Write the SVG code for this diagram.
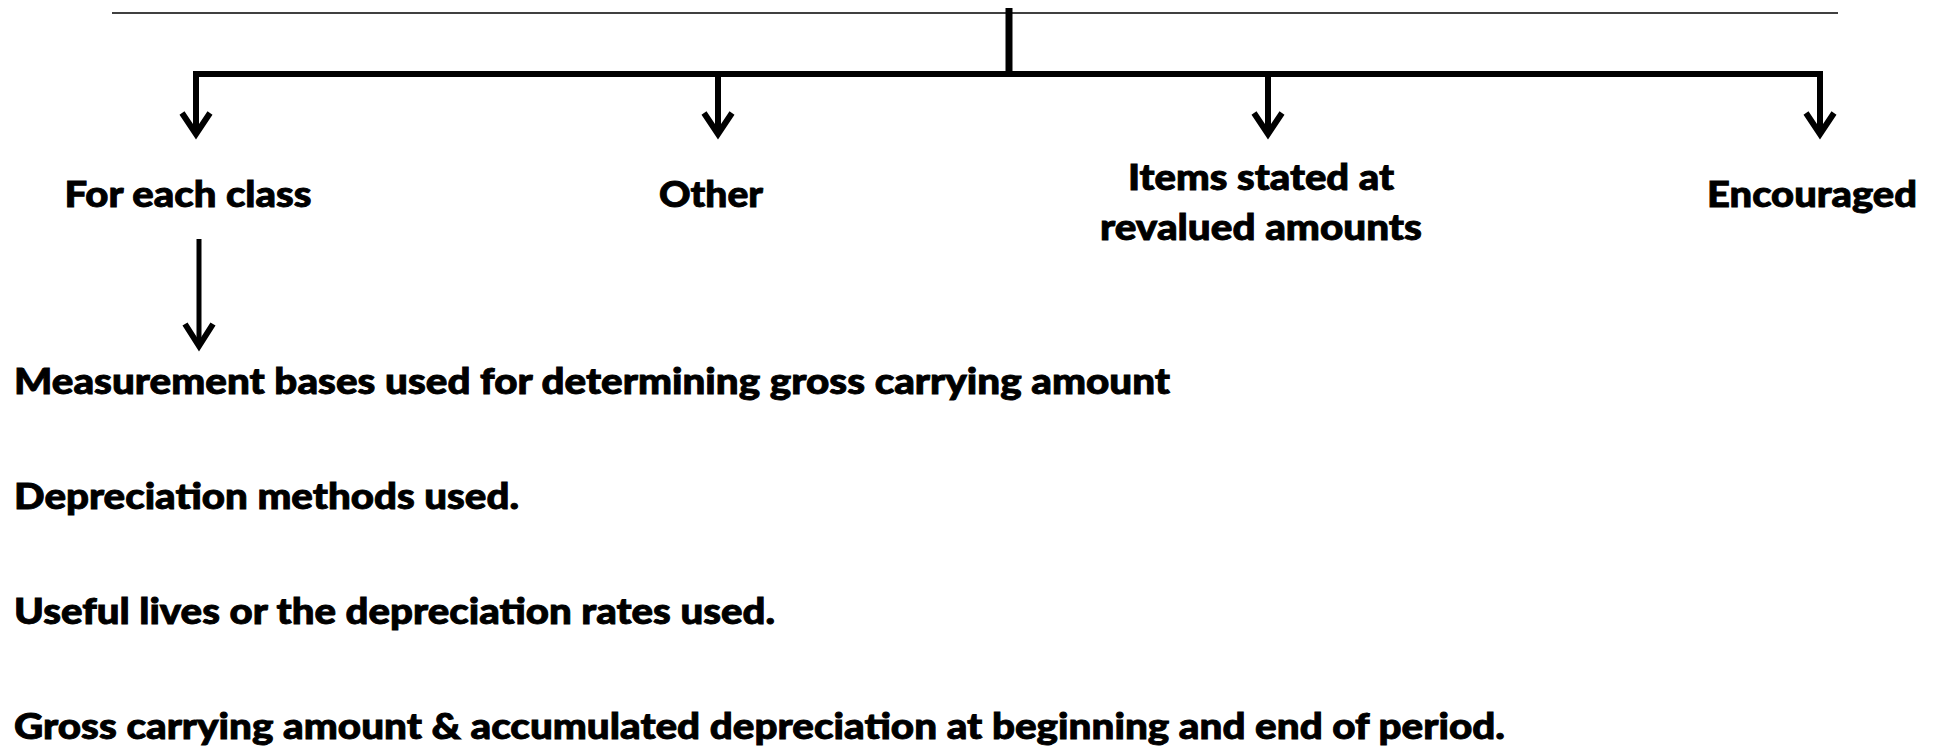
<svg xmlns="http://www.w3.org/2000/svg" width="1938" height="749" viewBox="0 0 1938 749">
  <style>
    .lbl { font-family: Lato, "Open Sans", "Liberation Sans", sans-serif; font-weight: 900; font-size: 36px; fill: #000; stroke: #000; stroke-width: 0.9; }
    .mid { text-anchor: middle; }
    .wire { fill: none; stroke: #000; stroke-linecap: butt; }
    .head { fill: none; stroke: #000; stroke-width: 6; stroke-linejoin: miter; stroke-linecap: butt; }
  </style>
  <rect width="1938" height="749" fill="#fff"/>

  <!-- connectors -->
  <g id="connectors">
    <line class="wire" x1="112" y1="13" x2="1838" y2="13" stroke-width="1.6"/>
    <line class="wire" x1="1009" y1="8" x2="1009" y2="74" stroke-width="7"/>
    <line class="wire" x1="193" y1="74" x2="1823" y2="74" stroke-width="6"/>
    <!-- drops to the four categories -->
    <line class="wire" x1="196" y1="71" x2="196" y2="134" stroke-width="6"/>
    <polyline class="head" points="182,113 196,134 210,113"/>
    <line class="wire" x1="718" y1="74" x2="718" y2="134" stroke-width="6"/>
    <polyline class="head" points="704,113 718,134 732,113"/>
    <line class="wire" x1="1268" y1="74" x2="1268" y2="134" stroke-width="6"/>
    <polyline class="head" points="1254,113 1268,134 1282,113"/>
    <line class="wire" x1="1820" y1="71" x2="1820" y2="134" stroke-width="6"/>
    <polyline class="head" points="1806,113 1820,134 1834,113"/>
    <!-- from "For each class" to the list -->
    <line class="wire" x1="199" y1="239" x2="199" y2="346" stroke-width="5"/>
    <polyline class="head" points="185,324 199,346 213,324"/>
  </g>

  <g id="node-each-class">
    <text class="lbl mid" x="188" y="207" textLength="247" lengthAdjust="spacingAndGlyphs">For each class</text>
  </g>
  <g id="node-other">
    <text class="lbl mid" x="711" y="207" textLength="104" lengthAdjust="spacingAndGlyphs">Other</text>
  </g>
  <g id="node-revalued">
    <text class="lbl mid" x="1261" y="190" textLength="266" lengthAdjust="spacingAndGlyphs">Items stated at</text>
    <text class="lbl mid" x="1261" y="240" textLength="322" lengthAdjust="spacingAndGlyphs">revalued amounts</text>
  </g>
  <g id="node-encouraged">
    <text class="lbl mid" x="1812" y="207" textLength="210" lengthAdjust="spacingAndGlyphs">Encouraged</text>
  </g>

  <g id="node-disclosures">
    <text class="lbl" x="14" y="394" textLength="1156" lengthAdjust="spacingAndGlyphs">Measurement bases used for determining gross carrying amount</text>
    <text class="lbl" x="14" y="509" textLength="505" lengthAdjust="spacingAndGlyphs">Depreciation methods used.</text>
    <text class="lbl" x="14" y="624" textLength="761" lengthAdjust="spacingAndGlyphs">Useful lives or the depreciation rates used.</text>
    <text class="lbl" x="14" y="739" textLength="1491" lengthAdjust="spacingAndGlyphs">Gross carrying amount &amp; accumulated depreciation at beginning and end of period.</text>
  </g>
</svg>
